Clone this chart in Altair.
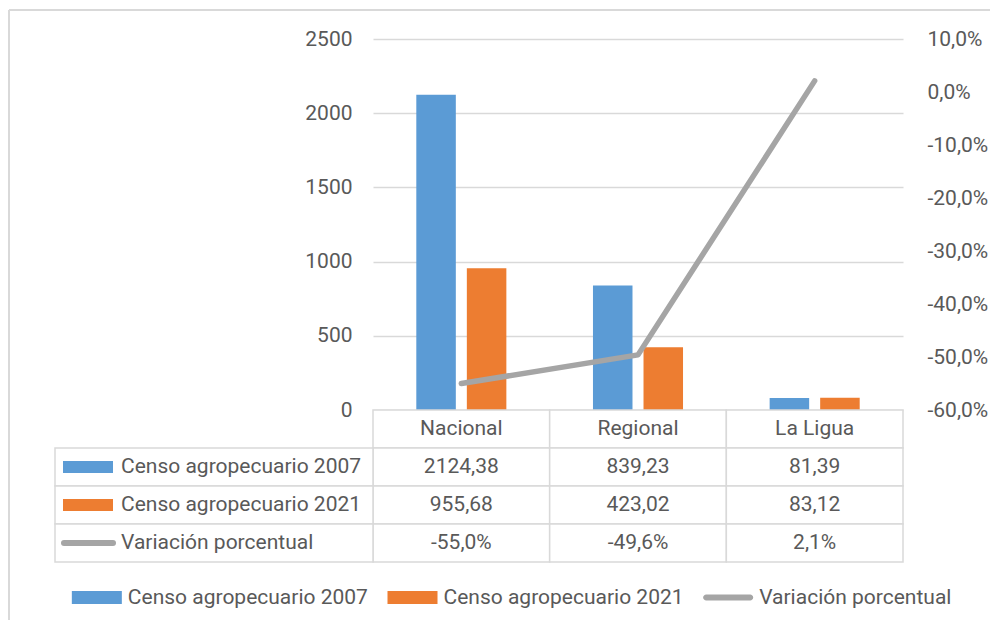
import altair as alt
import pandas as pd

categorias = ["Nacional", "Regional", "La Ligua"]
series = ["Censo agropecuario 2007", "Censo agropecuario 2021", "Variación porcentual"]
censo_2007 = [2124.38, 839.23, 81.39]
censo_2021 = [955.68, 423.02, 83.12]
variacion = [-0.550, -0.496, 0.021]
var_labels = ["-55,0%", "-49,6%", "2,1%"]
colores = ["#5B9BD5", "#ED7D31", "#A5A5A5"]
eje_izq = [0, 500, 1000, 1500, 2000, 2500]
eje_der = [-0.6, -0.5, -0.4, -0.3, -0.2, -0.1, 0.0, 0.1]

FONT = "Roboto"
TXT = "#595959"
GRID = "#D9D9D9"
FS = 21

bars_df = pd.DataFrame({
    "categoria": categorias * 2,
    "serie": [series[0]] * 3 + [series[1]] * 3,
    "valor": censo_2007 + censo_2021,
})
line_df = pd.DataFrame({"categoria": categorias, "serie": series[2], "valor": variacion})


def fmt(v):
    return f"{v:.2f}".replace(".", ",")


rows = ["header"] + series
cells = []
for i, c in enumerate(categorias):
    cells.append({"categoria": c, "fila": "header", "texto": c})
    cells.append({"categoria": c, "fila": series[0], "texto": fmt(censo_2007[i])})
    cells.append({"categoria": c, "fila": series[1], "texto": fmt(censo_2021[i])})
    cells.append({"categoria": c, "fila": series[2], "texto": var_labels[i]})
cells_df = pd.DataFrame(cells)
labels_df = pd.DataFrame({"fila": series, "serie": series})
frame_df = pd.DataFrame({"k": [0]})

x_scale = alt.Scale(domain=categorias, paddingInner=0, paddingOuter=0)
color_scale = alt.Scale(domain=series, range=colores)
row_scale = alt.Scale(domain=rows, paddingInner=0, paddingOuter=0)

W, H, HT = 530, 371, 152

axis_style = dict(labelFont=FONT, labelFontSize=FS, labelColor=TXT)
xenc = alt.X("categoria:N", scale=x_scale, axis=None, sort=categorias)

bars = alt.Chart(bars_df).mark_bar().encode(
    x=xenc,
    xOffset=alt.XOffset("serie:N", scale=alt.Scale(domain=series[:2], paddingInner=0.218, paddingOuter=0.857)),
    y=alt.Y("valor:Q", scale=alt.Scale(domain=[0, 2500], nice=False),
            axis=alt.Axis(values=eje_izq, format="d", title=None, domain=False, ticks=False,
                          grid=True, gridColor=GRID, gridWidth=1.5, labelPadding=21, **axis_style)),
    color=alt.Color("serie:N", scale=color_scale, legend=None),
)

line = alt.Chart(line_df).mark_line(color="#A5A5A5", strokeWidth=5.5, strokeCap="round", strokeJoin="round").encode(
    x=xenc,
    y=alt.Y("valor:Q", scale=alt.Scale(domain=[-0.6, 0.1], nice=False),
            axis=alt.Axis(orient="right", values=eje_der, title=None, domain=False, ticks=False, grid=False,
                          labelPadding=24, labelAlign="left",
                          labelExpr="replace(replace(format(datum.value,'.1%'),'.',','),'\u2212','-')",
                          **axis_style)),
)

left_rule = alt.Chart(frame_df).mark_rule(color=GRID, strokeWidth=2).encode(
    x=alt.value(-364), y=alt.value(-29), y2=alt.value(581))
top_rule = alt.Chart(frame_df).mark_rule(color=GRID, strokeWidth=2).encode(
    x=alt.value(-364), x2=alt.value(617), y=alt.value(-29))

top = alt.layer(bars, line, left_rule, top_rule).resolve_scale(y="independent").properties(width=W, height=H)

yrow = alt.Y("fila:N", scale=row_scale, axis=None)

cell_rect = alt.Chart(cells_df).mark_rect(fill="white", stroke=GRID, strokeWidth=1.5).encode(x=xenc, y=yrow)
cell_text = alt.Chart(cells_df).mark_text(fontSize=FS, color=TXT, font=FONT).encode(x=xenc, y=yrow, text="texto:N")
label_rect = alt.Chart(labels_df).mark_rect(fill="white", stroke=GRID, strokeWidth=1.5).encode(
    x=alt.value(-318), x2=alt.value(0), y=yrow)
swatch_bars = alt.Chart(labels_df).transform_filter(alt.datum.serie != series[2]).mark_rule(strokeWidth=12).encode(
    x=alt.value(-310), x2=alt.value(-260), y=yrow,
    color=alt.Color("serie:N", scale=color_scale, legend=None))
swatch_line = alt.Chart(labels_df).transform_filter(alt.datum.serie == series[2]).mark_rule(
    strokeWidth=6, strokeCap="round", color="#A5A5A5").encode(
    x=alt.value(-309), x2=alt.value(-260), y=yrow)
label_text = alt.Chart(labels_df).mark_text(align="left", fontSize=FS, color=TXT, font=FONT).encode(
    x=alt.value(-252), y=yrow, text="fila:N")

# legend drawn as marks along its own band scale (items placed at band centres)
rect_path = "M0,-0.26H2V0.26H0Z"
line_path = "M0.12,-0.12H1.88A0.12,0.12 0 0 1 1.88,0.12H0.12A0.12,0.12 0 0 1 0.12,-0.12Z"
legend_x = alt.Scale(domain=series, range=[-459, 488], paddingInner=0, paddingOuter=0)
LEG_Y = 187.5
legend_sym = alt.Chart(labels_df).mark_point(filled=True, size=2500, opacity=1, strokeWidth=0).encode(
    x=alt.X("serie:N", scale=legend_x, axis=None),
    y=alt.value(LEG_Y),
    color=alt.Color("serie:N", scale=color_scale, legend=None),
    shape=alt.Shape("serie:N", scale=alt.Scale(domain=series, range=[rect_path, rect_path, line_path]), legend=None),
)
legend_txt = alt.Chart(labels_df).mark_text(align="left", dx=56, fontSize=FS, color=TXT, font=FONT).encode(
    x=alt.X("serie:N", scale=legend_x, axis=None),
    y=alt.value(LEG_Y),
    text="serie:N",
)
legend_layer = alt.layer(legend_sym, legend_txt)

table_main = alt.layer(cell_rect, label_rect, cell_text, swatch_bars, swatch_line, label_text)
table = alt.layer(table_main, legend_layer).resolve_scale(x="independent").properties(width=W, height=HT)

chart = alt.vconcat(top, table, spacing=0, bounds="flush").resolve_scale(
    x="independent", y="independent", color="independent", shape="independent"
).configure(font=FONT).configure_view(strokeWidth=0).properties(
    padding={"left": 0, "top": 1, "right": 0, "bottom": 0}, background="white"
)

chart.save("out.html", embed_options={"renderer": "svg", "actions": False})
